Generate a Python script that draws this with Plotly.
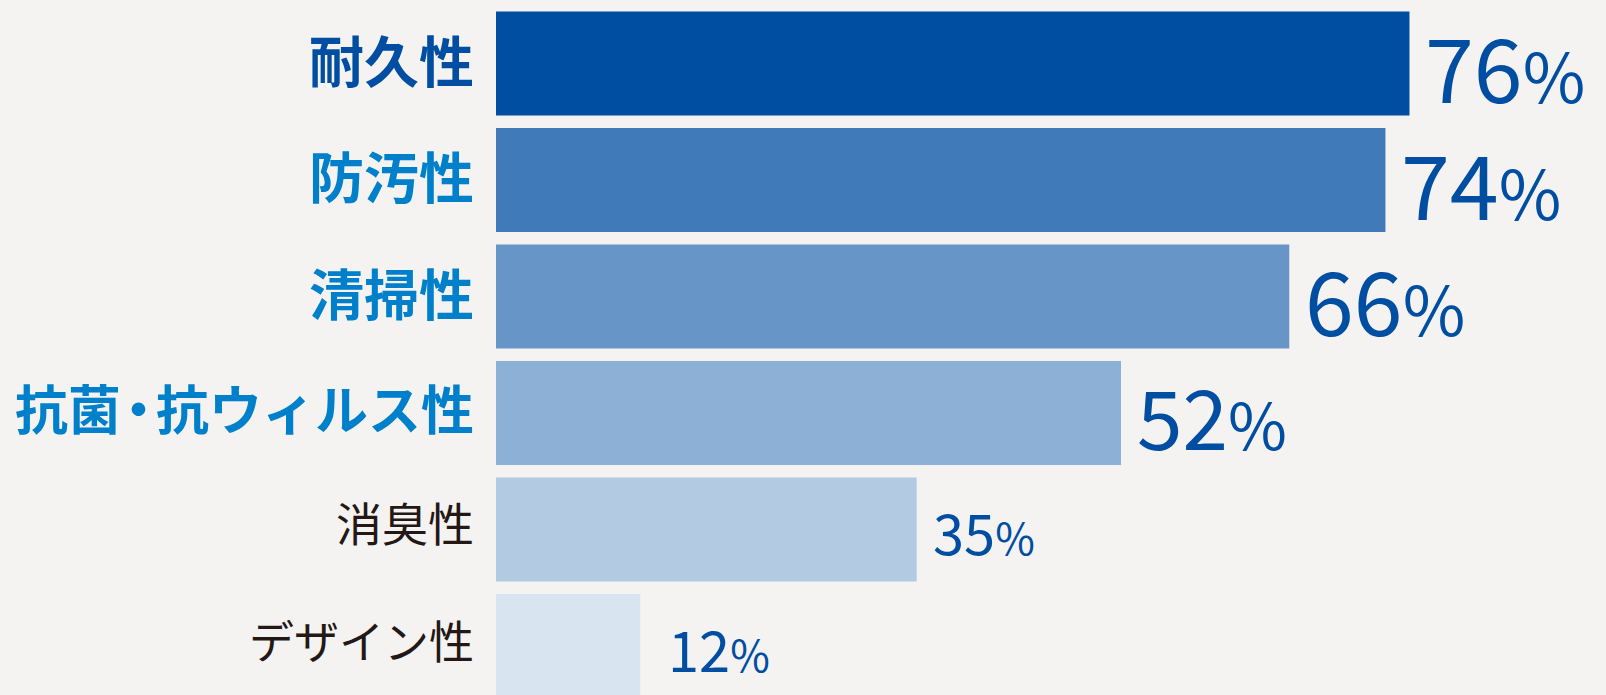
import plotly.graph_objects as go

categories = ["耐久性", "防汚性", "清掃性", "抗菌・抗ウィルス性", "消臭性", "デザイン性"]
values = [76, 74, 66, 52, 35, 12]
bar_colors = ["#004EA2", "#417AB9", "#6795C7", "#8CB0D6", "#B3CAE3", "#D9E4F1"]
label_colors = ["#004EA2", "#0080CB", "#0080CB", "#0080CB", "#231815", "#231815"]
label_bold = [True, True, True, True, False, False]
label_sizes = [55, 55, 55, 53, 46, 45]
value_sizes = [88, 88, 88, 82, 56, 56]
pct_sizes = [68, 68, 68, 64, 43, 43]
value_shifts = [14, 14, 14, 14, 14, 26]
label_shifts = [6, 6, 6, 6, 9, 7]

FONT = "Noto Sans CJK JP"
ypos = list(range(len(categories)))


def tight_dot(s):
    # the reference sets the middle dot with proportional (narrow) spacing
    if "・" in s:
        i = s.index("・")
        return s[:i - 1] + "<span style='letter-spacing:-9px'>" + s[i - 1:i + 1] + "</span>" + s[i + 1:]
    return s


fig = go.Figure()
fig.add_trace(go.Bar(
    x=values, y=ypos, orientation="h",
    marker=dict(color=bar_colors, line=dict(width=0)),
    hoverinfo="skip",
))

for i, (cat, v) in enumerate(zip(categories, values)):
    body = tight_dot(cat)
    txt = f"<b>{body}</b>" if label_bold[i] else body
    fig.add_annotation(
        x=0, y=i, xref="x", yref="y", text=txt, showarrow=False,
        xanchor="right", yanchor="middle", xshift=-20, yshift=label_shifts[i],
        font=dict(family=FONT, size=label_sizes[i], color=label_colors[i]),
    )
    fig.add_annotation(
        x=v, y=i, xref="x", yref="y",
        text=f"{v}<span style='font-size:{pct_sizes[i]}px'>%</span>",
        showarrow=False, xanchor="left", yanchor="middle", xshift=value_shifts[i], yshift=-1,
        font=dict(family=FONT, size=value_sizes[i], color="#004EA2"),
    )

fig.update_layout(
    width=1606, height=695,
    margin=dict(l=496, r=0, t=0, b=0),
    paper_bgcolor="#F4F3F1", plot_bgcolor="#F4F3F1",
    bargap=0.107, showlegend=False,
    xaxis=dict(range=[0, 92.35], visible=False, fixedrange=True),
    yaxis=dict(range=[5.42, -0.545], visible=False, fixedrange=True),
)

fig.write_html(
    "out.html",
    config={"displayModeBar": False},
    post_script="document.body.style.margin='0';document.body.style.overflow='hidden';",
)
